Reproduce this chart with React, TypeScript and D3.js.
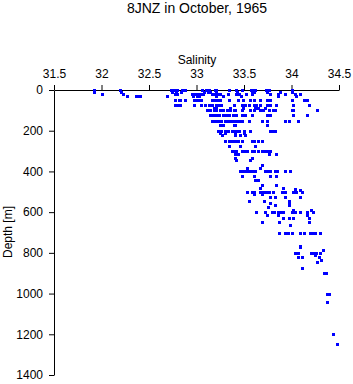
import React, { useEffect, useRef } from 'react';
import * as d3 from 'd3';

// standard sampling depths (m) and the salinities observed at each
const depthLevels = [0, 10, 20, 30, 50, 75, 90, 100, 125, 150, 170, 200, 210, 220, 250, 275, 300, 400, 500, 600, 700, 800];
const salinityByLevel = [
  [31.92, 32.19, 32.73, 32.75, 32.77, 32.79, 32.85, 32.88, 33.06, 33.1, 33.13, 33.19, 33.21, 33.34, 33.42, 33.48, 33.57, 33.6, 33.62, 33.73, 33.76, 34.0],
  [31.92, 32.2, 32.74, 32.78, 32.84, 33.08, 33.12, 33.14, 33.2, 33.43, 33.58, 33.61, 33.74, 33.88, 34.01],
  [32.0, 32.23, 32.77, 32.8, 32.95, 32.98, 33.01, 33.04, 33.07, 33.16, 33.19, 33.22, 33.25, 33.33, 33.42, 33.45, 33.52, 33.58, 33.77, 33.86, 33.93, 34.04, 34.09],
  [32.27, 32.36, 32.38, 32.41, 32.69, 32.96, 33.0, 33.03, 33.2, 33.28, 33.47, 33.86, 34.05],
  [32.77, 32.82, 32.83, 32.88, 32.97, 33.0, 33.03, 33.05, 33.16, 33.19, 33.22, 33.25, 33.34, 33.44, 33.49, 33.56, 33.6, 33.67, 33.74, 33.77, 34.0, 34.13, 34.16],
  [32.77, 32.8, 32.83, 32.97, 33.05, 33.09, 33.13, 33.16, 33.2, 33.23, 33.26, 33.39, 33.48, 33.51, 33.55, 33.6, 33.63, 33.67, 33.74, 33.77, 33.84, 34.02, 34.18],
  [33.18, 33.21, 33.35, 33.49, 33.62, 33.65, 33.72],
  [33.11, 33.14, 33.18, 33.21, 33.25, 33.28, 33.32, 33.35, 33.39, 33.41, 33.48, 33.56, 33.6, 33.67, 33.7, 33.76, 33.81, 33.83, 34.0, 34.02, 34.27],
  [33.14, 33.17, 33.21, 33.24, 33.28, 33.31, 33.34, 33.38, 33.42, 33.48, 33.51, 33.58, 33.74, 33.77, 34.02, 34.16],
  [33.16, 33.19, 33.23, 33.26, 33.3, 33.33, 33.36, 33.39, 33.43, 33.46, 33.48, 33.55, 33.69, 33.74, 33.93, 33.97, 34.07],
  [33.25, 33.28, 33.39, 33.41, 33.74],
  [33.23, 33.26, 33.3, 33.33, 33.37, 33.4, 33.43, 33.45, 33.5, 33.56, 33.77, 33.8, 33.83],
  [33.25, 33.3, 33.41, 33.5],
  [33.27, 33.41, 33.46, 33.51],
  [33.3, 33.34, 33.37, 33.41, 33.44, 33.48, 33.58, 33.61, 33.65, 33.69],
  [33.34, 33.46, 33.62],
  [33.37, 33.4, 33.42, 33.48, 33.51, 33.53, 33.58, 33.61, 33.65, 33.69, 33.72, 33.74, 33.77],
  [33.46, 33.49, 33.52, 33.55, 33.58, 33.62, 33.72, 33.75, 33.77, 33.83, 33.85, 33.93, 33.98],
  [33.53, 33.58, 33.6, 33.67, 33.7, 33.73, 33.76, 33.81, 33.9, 33.93, 34.02, 34.05, 34.11],
  [33.63, 33.72, 33.79, 33.82, 33.86, 33.89, 33.91, 34.0, 34.04, 34.09, 34.16, 34.23],
  [33.87, 33.93, 33.96, 34.0, 34.09, 34.13, 34.19, 34.22, 34.25, 34.3],
  [34.04, 34.07, 34.2, 34.23, 34.26, 34.3],
];

// odd-depth observations
const extraDepth = [315, 315, 315, 315, 335, 335, 345, 345, 370, 385, 385, 420, 420, 420, 420, 440, 440, 465, 465, 480, 480, 485, 490, 510, 510,
  527, 527, 527, 527, 544, 544, 544, 553, 553, 565, 565, 576, 590, 590, 614, 614, 614, 630, 630, 630, 630, 650, 650, 650, 663,
  765, 770, 785, 810, 818, 818, 818, 835, 845, 873, 900, 900, 1000, 1000, 1040, 1200, 1250];
const extraSalinity = [33.41, 33.44, 33.76, 33.84, 33.41, 33.58, 33.42, 33.56, 33.69, 33.53, 33.67, 33.48, 33.6, 33.77, 33.84, 33.62, 33.65, 33.69, 33.84, 33.67, 33.91, 34.04, 34.09, 33.6, 33.69,
  33.77, 33.83, 33.93, 34.09, 33.55, 33.71, 33.97, 33.77, 33.97, 33.83, 33.97, 33.75, 34.02, 34.21, 33.74, 33.86, 34.16, 33.91, 33.97, 34.02, 34.18, 33.69, 33.87, 34.18, 33.98,
  34.09, 34.09, 34.33, 34.25, 34.07, 34.11, 34.29, 34.31, 34.27, 34.11, 34.34, 34.36, 34.37, 34.4, 34.37, 34.44, 34.48];

const salinityTicks = [31.5, 32, 32.5, 33, 33.5, 34, 34.5];
const depthTicks = [0, 200, 400, 600, 800, 1000, 1200, 1400];

const width = 353;
const height = 384;
const font = '"Liberation Sans", Arial, sans-serif';

const App = () => {
  const svgRef = useRef(null);

  useEffect(() => {
    const svg = d3.select(svgRef.current);
    svg.selectAll('*').remove();

    const x = d3.scaleLinear().domain([31.5, 34.5]).range([54, 339]);
    const y = d3.scaleLinear().domain([0, 1400]).range([90, 375]);

    const points = [];
    depthLevels.forEach((d, i) => salinityByLevel[i].forEach((s) => points.push([s, d])));
    extraDepth.forEach((d, i) => points.push([extraSalinity[i], d]));

    // title
    svg.append('text')
      .attr('x', 197)
      .attr('y', 13)
      .attr('text-anchor', 'middle')
      .style('font-family', font)
      .style('font-size', '14px')
      .text('8JNZ in October, 1965');

    // top axis
    const xAxis = svg.append('g').attr('transform', 'translate(0,90)')
      .call(d3.axisTop(x).tickValues(salinityTicks).tickSize(5).tickSizeOuter(0).tickFormat(d3.format('')));
    xAxis.selectAll('text').attr('dy', 0).attr('y', -12)
      .style('font-family', font).style('font-size', '12px');

    svg.append('text')
      .attr('x', 197)
      .attr('y', 64)
      .attr('text-anchor', 'middle')
      .style('font-family', font)
      .style('font-size', '12px')
      .text('Salinity');

    // left axis
    const yAxis = svg.append('g').attr('transform', 'translate(54,0)')
      .call(d3.axisLeft(y).tickValues(depthTicks).tickSize(5).tickSizeOuter(0).tickFormat(d3.format('d')));
    yAxis.selectAll('text').attr('x', -11)
      .style('font-family', font).style('font-size', '12px');

    svg.append('text')
      .attr('transform', 'translate(12,232) rotate(-90)')
      .attr('text-anchor', 'middle')
      .style('font-family', font)
      .style('font-size', '12px')
      .text('Depth [m]');

    // observations
    svg.append('g')
      .selectAll('rect')
      .data(points)
      .join('rect')
      .attr('x', (d) => Math.round(x(d[0])) - 1)
      .attr('y', (d) => Math.round(y(d[1])) - 1)
      .attr('width', 3)
      .attr('height', 3)
      .attr('fill', '#0000ff')
      .attr('shape-rendering', 'crispEdges');
  }, []);

  return (
    <svg ref={svgRef} width={width} height={height}
      style={{ position: 'absolute', left: 0, top: 0, background: 'white' }}>
    </svg>
  );
};

export default App;
